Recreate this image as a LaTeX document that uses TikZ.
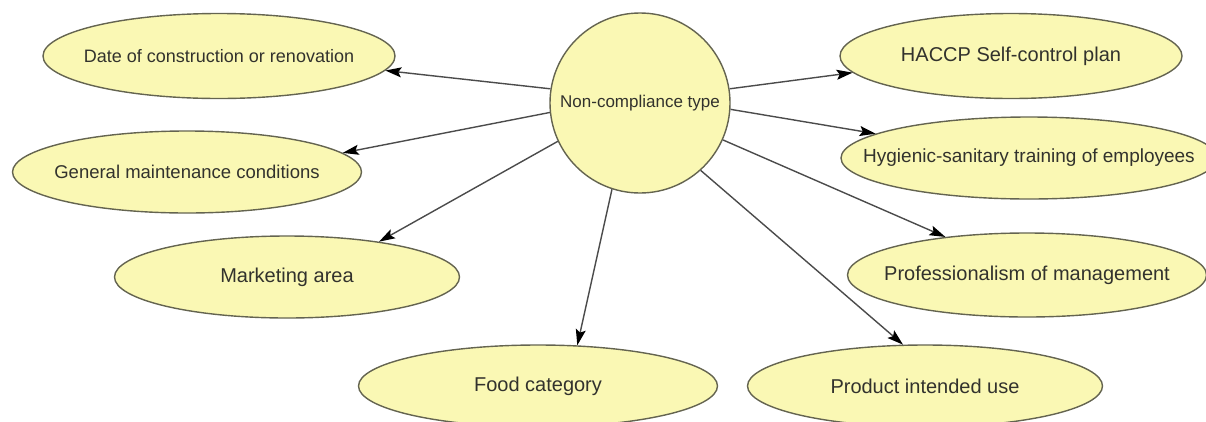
\documentclass[tikz,border=0pt]{standalone}
\usepackage{fontspec}
\setmainfont{Liberation Sans}
\usetikzlibrary{shapes.geometric,arrows.meta}
\definecolor{leaffill}{RGB}{250,248,180}
\definecolor{rimgray}{RGB}{100,100,80}
\definecolor{wiregray}{RGB}{75,75,75}
\definecolor{inkgray}{RGB}{50,50,45}

\begin{document}
\begin{tikzpicture}[x=1pt,y=-1pt,
	hub/.style={circle, draw=rimgray, fill=leaffill, line width=1.4pt, minimum size=180pt, inner sep=0pt, text=inkgray, font=\fontsize{17}{20}\selectfont},
	factor/.style={ellipse, draw=rimgray, fill=leaffill, line width=1.4pt, inner sep=0pt, minimum width=#1, minimum height=82pt},
	every label/.style={text=inkgray, font=\fontsize{20}{24}\selectfont},
	smaller/.style={font=\fontsize{18}{22}\selectfont},
	link/.style={draw=wiregray, line width=1.4pt, -{Stealth[length=16pt, width=10pt, inset=3pt, black]}}]
\useasboundingbox (0,0) rectangle (1206,421);

\node[hub] (type) at (640,103) {Non-compliance type};

\node[factor=352pt, minimum height=85pt, label={[smaller]center:{Date of construction or renovation}}] (date) at (219,56) {};
\node[factor=349pt, label={[font=\fontsize{18.5}{22}\selectfont]center:{General maintenance conditions}}] (maint) at (187,172) {};
\node[factor=345pt, label={center:{Marketing area}}] (market) at (287,277) {};
\node[factor=359pt, label={center:{Food category}}] (food) at (538,386) {};
\node[factor=355pt, label={center:{Product intended use}}] (use) at (925,386) {};
\node[factor=359pt, minimum height=84pt, label={center:{Professionalism of management}}] (prof) at (1027,275) {};
\node[factor=376pt, label={[font=\fontsize{19}{22}\selectfont]center:{Hygienic-sanitary training of employees}}] (train) at (1029,158) {};
\node[factor=342pt, minimum height=85pt, label={center:{HACCP Self-control plan}}] (haccp) at (1011,56) {};

\draw[link] (type.171) -- (date.355);
\draw[link] (type.186) -- (maint.7);
\draw[link] (type.205) -- (market.21);
\draw[link] (type.252) -- (food.46);
\draw[link] (type.312) -- (use.118);
\draw[link] (type.336) -- (prof.155);
\draw[link] (type.356) -- (train.171);
\draw[link] (type.9) -- (haccp.186);
\end{tikzpicture}
\end{document}
